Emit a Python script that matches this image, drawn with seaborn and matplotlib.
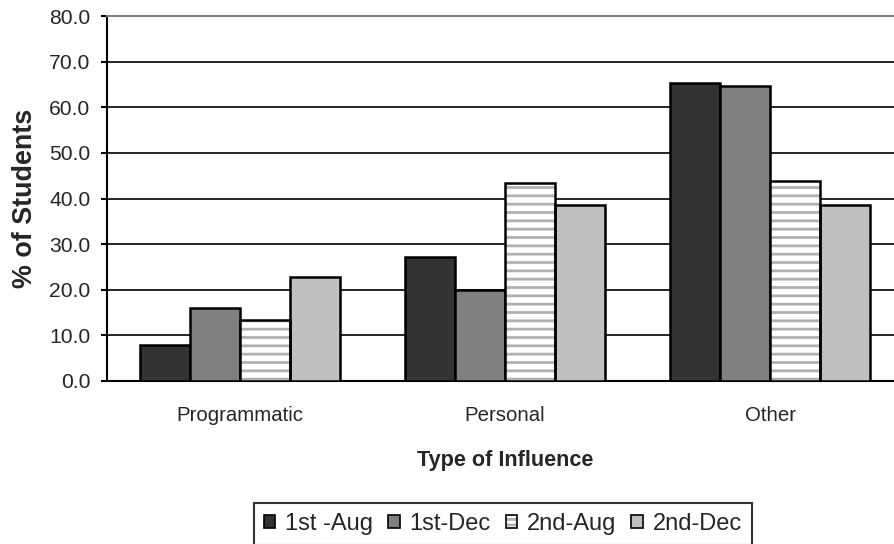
import matplotlib
matplotlib.use('Agg')
import matplotlib.pyplot as plt
import matplotlib.patches as mpatches
import numpy as np
import pandas as pd
import seaborn as sns

# values
categories = ['Programmatic', 'Personal', 'Other']
series = ['1st -Aug', '1st-Dec', '2nd-Aug', '2nd-Dec']
aug_1st = [7.9, 27.1, 65.4]
dec_1st = [15.9, 19.9, 64.6]
aug_2nd = [13.3, 43.4, 43.8]
dec_2nd = [22.9, 38.5, 38.5]
colors = ['#333333', '#808080', '#ffffff', '#c0c0c0']

df = pd.DataFrame({
    'Type of Influence': categories * 4,
    'series': np.repeat(series, 3),
    'value': aug_1st + dec_1st + aug_2nd + dec_2nd,
})

sns.set_style('white')
plt.rcParams['font.family'] = ['Liberation Sans', 'DejaVu Sans']
plt.rcParams['hatch.linewidth'] = 2.0

fig = plt.figure(figsize=(8.94, 5.44), dpi=100)
ax = fig.add_axes([107 / 894, 1 - 381 / 544, 796 / 894, 365 / 544])

sns.barplot(data=df, x='Type of Influence', y='value', hue='series',
            order=categories, hue_order=series, palette=colors,
            width=0.755, gap=0, edgecolor='black', linewidth=1.8,
            legend=False, ax=ax, zorder=3)

# striped bars for 2nd-Aug: grey hatch, then a black outline on top
for cont, name in zip(ax.containers, series):
    if name != '2nd-Aug':
        continue
    for bar in cont:
        bar.set_hatch('--')
        bar.set_edgecolor('#b0b0b0')
        bar.set_linewidth(0)
        ax.add_patch(mpatches.Rectangle((bar.get_x(), bar.get_y()), bar.get_width(),
                                        bar.get_height(), fill=False, edgecolor='black',
                                        linewidth=1.8, zorder=4))

ax.set_ylim(0, 80)
ax.set_xlim(-0.5, 2.5)
ax.set_yticks(np.arange(0, 81, 10))
ax.set_yticklabels([f'{v:.1f}' for v in np.arange(0, 81, 10)], fontsize=15.2)
ax.set_xticks(range(3))
ax.set_xticklabels(categories, fontsize=14.7)
ax.set_xticks([0.5, 1.5], minor=True)
ax.tick_params(axis='x', which='major', length=0, pad=18)
ax.tick_params(axis='x', which='minor', length=4, width=1.5, color='black')
ax.tick_params(axis='y', length=4, width=1.5, color='black', pad=8, left=True)
ax.grid(axis='y', color='black', linewidth=1.2, zorder=0)
ax.set_axisbelow(True)

for side in ['left', 'bottom']:
    ax.spines[side].set_color('black')
    ax.spines[side].set_linewidth(1.5)
ax.spines['top'].set_color('#808080')
ax.spines['top'].set_linewidth(1.5)
ax.spines['right'].set_visible(False)

ax.set_xlabel('Type of Influence', fontsize=15.6, fontweight='bold', labelpad=18)
ax.set_ylabel('% of Students', fontsize=19.4, fontweight='bold', labelpad=8)

handles = []
for name, c in zip(series, colors):
    if name == '2nd-Aug':
        stripes = mpatches.Patch(facecolor='white', edgecolor='#b0b0b0', hatch='---', linewidth=0)
        outline = mpatches.Patch(fill=False, edgecolor='black', linewidth=1.2)
        handles.append((stripes, outline))
    else:
        handles.append(mpatches.Patch(facecolor=c, edgecolor='black', linewidth=1.2))
leg = fig.legend(handles=handles, labels=series, loc='upper center',
                 bbox_to_anchor=(503 / 894, 1 - 503 / 544), borderaxespad=0,
                 ncol=4, frameon=True, fontsize=17, handlelength=0.5, handleheight=0.5,
                 handletextpad=0.42, columnspacing=0.62, borderpad=0.42, fancybox=False)
leg.get_frame().set_edgecolor('black')
leg.get_frame().set_linewidth(1.5)

fig.savefig('out.png', dpi=100)
